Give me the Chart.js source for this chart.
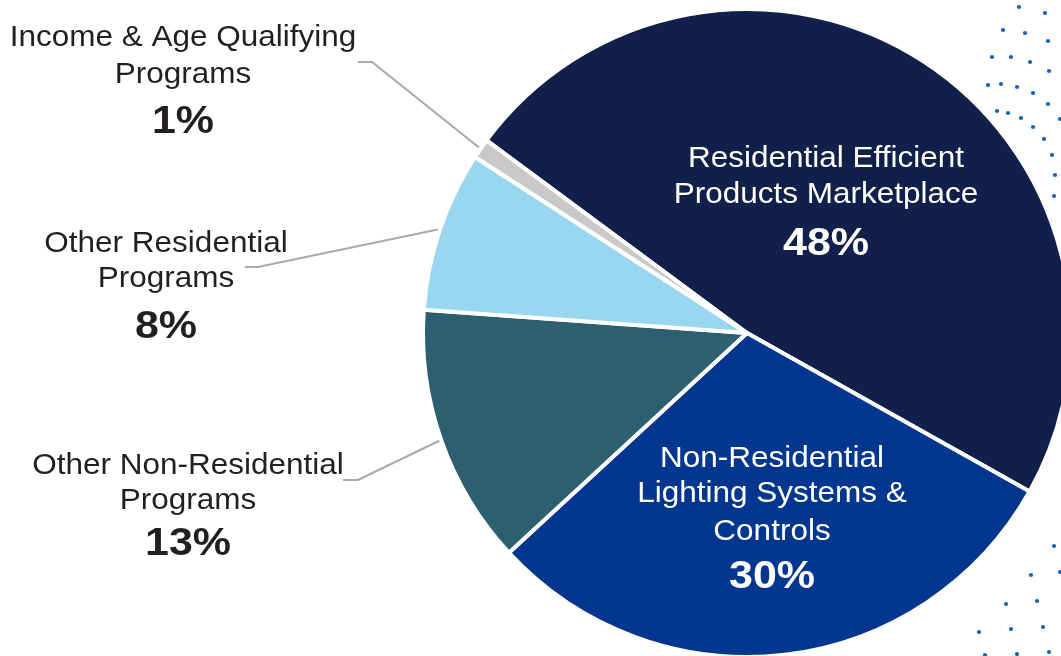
<!DOCTYPE html>
<html>
<head>
<meta charset="utf-8">
<title>Program Portfolio Share</title>
<script src="https://cdn.jsdelivr.net/npm/chart.js@4.4.1/dist/chart.umd.min.js"></script>
<style>
  html, body { margin: 0; padding: 0; background: #ffffff; }
  #wrap { position: relative; width: 1061px; height: 656px; overflow: hidden; }
</style>
</head>
<body>
<div id="wrap"><canvas id="pie"></canvas></div>
<script>
// Program categories, clockwise from the upper-left edge of the largest slice
const categories = [
  'Residential Efficient Products Marketplace',
  'Non-Residential Lighting Systems & Controls',
  'Other Non-Residential Programs',
  'Other Residential Programs',
  'Income & Age Qualifying Programs'
];
// Share of the portfolio, percent
const shares = [48, 30, 13, 8, 1];
// How each category name is broken over lines in its label
const labelLines = [
  ['Residential Efficient', 'Products Marketplace'],
  ['Non-Residential', 'Lighting Systems &', 'Controls'],
  ['Other Non-Residential', 'Programs'],
  ['Other Residential', 'Programs'],
  ['Income & Age Qualifying', 'Programs']
];
const sliceColors = ['#11204b', '#02368f', '#2c6071', '#98d7ef', '#c9c9c9'];

// Label placement: centre x, baselines of name lines, baseline of the percent,
// and for outside labels the point where the leader line leaves the text.
const labelLayout = [
  { x: 826, lines: [167, 203], pct: 255, color: '#ffffff' },
  { x: 772, lines: [467, 502, 540], pct: 588, color: '#ffffff' },
  { x: 188, lines: [474, 509], pct: 555, color: '#231f20', leader: { from: [343, 480], elbow: [358, 480] } },
  { x: 166, lines: [252, 287], pct: 338, color: '#231f20', leader: { from: [245, 267], elbow: [258, 267] } },
  { x: 183, lines: [46, 83], pct: 133, color: '#231f20', leader: { from: [358, 62], elbow: [372, 62] } }
];

// Decorative dot pattern in the right-hand corners
const cornerDots = [
  [1019,7],[1045,13],[1003,30],[1025,33],[1048,41],[992,57],[1011,57],[1030,62],
  [1049,71],[988,85],[1001,84],[1017,87],[1033,93],[1048,104],[997,111],[1008,113],
  [1021,118],[1060,119],[1033,127],[1044,139],[1052,155],[1055,175],[1054,196],
  [1054,546],[1060,572],[1031,575],[1037,601],[1006,604],[1043,627],[1011,629],
  [979,632],[1049,652],[1017,654],[985,655]
];

const FONT = '"Liberation Sans", Arial, Helvetica, sans-serif';
const V_SCALE = 0.92;

function drawText(ctx, text, x, y, font, color) {
  ctx.save();
  ctx.translate(x, y);
  ctx.scale(1, V_SCALE);
  ctx.font = font;
  ctx.fillStyle = color;
  ctx.textAlign = 'center';
  ctx.textBaseline = 'alphabetic';
  ctx.fillText(text, 0, 0);
  ctx.restore();
}

const decorPlugin = {
  id: 'decor',
  beforeDatasetsDraw(chart) {
    const ctx = chart.ctx;
    ctx.save();
    ctx.fillStyle = '#1661b9';
    cornerDots.forEach(([x, y]) => {
      ctx.beginPath();
      ctx.arc(x, y, 2.1, 0, Math.PI * 2);
      ctx.fill();
    });
    ctx.restore();
  }
};

const sliceLabelPlugin = {
  id: 'sliceLabels',
  afterDatasetsDraw(chart) {
    const ctx = chart.ctx;
    const arcs = chart.getDatasetMeta(0).data;
    arcs.forEach((arc, i) => {
      const lay = labelLayout[i];
      if (lay.leader) {
        const mid = (arc.startAngle + arc.endAngle) / 2;
        const r = arc.outerRadius + 2;
        const ex = arc.x + Math.cos(mid) * r;
        const ey = arc.y + Math.sin(mid) * r;
        ctx.save();
        ctx.strokeStyle = '#a9a9ad';
        ctx.lineWidth = 2;
        ctx.beginPath();
        ctx.moveTo(lay.leader.from[0], lay.leader.from[1]);
        ctx.lineTo(lay.leader.elbow[0], lay.leader.elbow[1]);
        ctx.lineTo(ex, ey);
        ctx.stroke();
        ctx.restore();
      }
      labelLines[i].forEach((t, k) => {
        drawText(ctx, t, lay.x, lay.lines[k], '31.5px ' + FONT, lay.color);
      });
      drawText(ctx, shares[i] + '%', lay.x, lay.pct, 'bold 43px ' + FONT, lay.color);
    });
  }
};

new Chart(document.getElementById('pie'), {
  type: 'pie',
  data: {
    labels: categories,
    datasets: [{
      data: shares,
      backgroundColor: sliceColors,
      borderColor: '#ffffff',
      borderWidth: 4,
      clip: false
    }]
  },
  options: {
    responsive: true,
    maintainAspectRatio: false,
    devicePixelRatio: 1,
    animation: false,
    rotation: -53.5,
    radius: 324,
    layout: { padding: { left: 433, right: 0, top: 10, bottom: 0 } },
    plugins: {
      legend: { display: false },
      tooltip: { enabled: false }
    },
    events: []
  },
  plugins: [decorPlugin, sliceLabelPlugin]
});
</script>
</body>
</html>
